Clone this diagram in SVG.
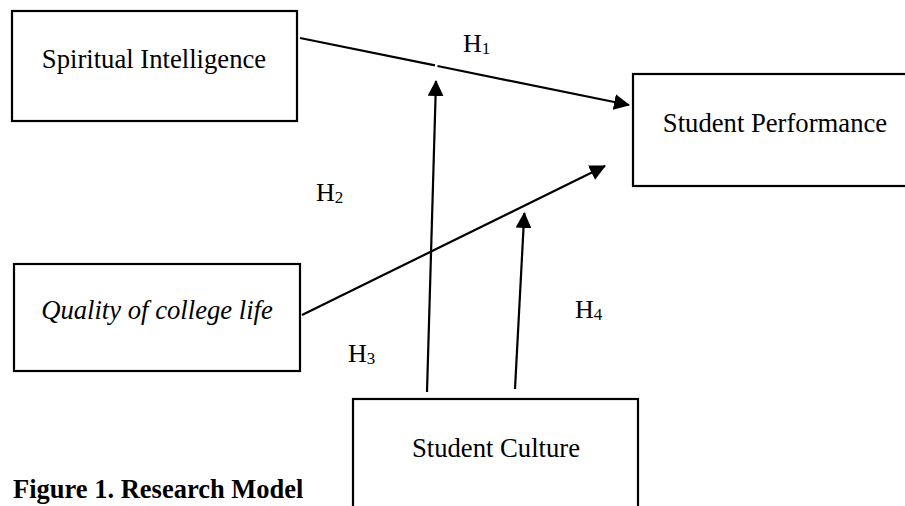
<svg xmlns="http://www.w3.org/2000/svg" width="905" height="506" viewBox="0 0 905 506">
<style>
.box{fill:#fff;stroke:#000;stroke-width:2.2}
.lbl{font-family:"Liberation Serif","Times New Roman",serif;font-size:26.67px;fill:#000}
.hyp{font-family:"Liberation Serif","Times New Roman",serif;font-size:26px;fill:#000}
.sub{font-size:17px}
.cap{font-family:"Liberation Serif","Times New Roman",serif;font-size:26.5px;font-weight:bold;fill:#000}
.con{stroke:#000;stroke-width:2.2;fill:none}
</style>
<defs>
<marker id="arr" viewBox="0 0 16 16" markerWidth="16" markerHeight="16" markerUnits="userSpaceOnUse" refX="15" refY="8" orient="auto">
<path d="M0,0 L16,8 L0,16 z" fill="#000"/>
</marker>
</defs>
<rect width="905" height="506" fill="#fff"/>
<g id="spiritual-intelligence">
<rect class="box" x="12" y="11" width="285" height="110"/>
<text class="lbl" x="154" y="68" text-anchor="middle">Spiritual Intelligence</text>
</g>
<g id="student-performance">
<rect class="box" x="633" y="74" width="276" height="112"/>
<text class="lbl" x="775" y="132" text-anchor="middle">Student Performance</text>
</g>
<g id="quality-of-college-life">
<rect class="box" x="14" y="264" width="286" height="107"/>
<text class="lbl" x="157" y="319" text-anchor="middle" font-style="italic">Quality of college life</text>
</g>
<g id="student-culture">
<rect class="box" x="353" y="399" width="285" height="130"/>
<text class="lbl" x="496" y="457" text-anchor="middle">Student Culture</text>
</g>
<g id="connectors">
<line class="con" x1="300" y1="38" x2="435" y2="65.4"/>
<line class="con" x1="437.5" y1="66" x2="629" y2="105" marker-end="url(#arr)"/>
<line class="con" x1="302" y1="315" x2="605" y2="166" marker-end="url(#arr)"/>
<line class="con" x1="427" y1="392" x2="436" y2="81" marker-end="url(#arr)"/>
<line class="con" x1="515" y1="389" x2="524.3" y2="213" marker-end="url(#arr)"/>
</g>
<g id="labels">
<text class="hyp" x="463" y="52">H<tspan class="sub" dy="2">1</tspan></text>
<text class="hyp" x="316" y="201">H<tspan class="sub" dy="2">2</tspan></text>
<text class="hyp" x="348" y="362">H<tspan class="sub" dy="2">3</tspan></text>
<text class="hyp" x="575" y="318">H<tspan class="sub" dy="2">4</tspan></text>
</g>
<text class="cap" x="13" y="498">Figure 1. Research Model</text>
</svg>
